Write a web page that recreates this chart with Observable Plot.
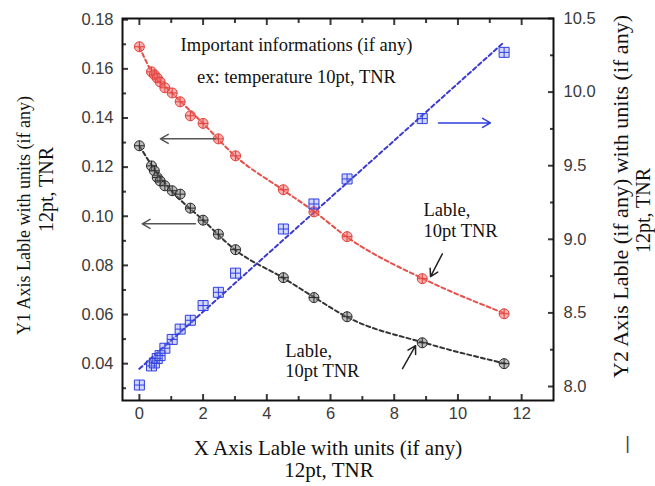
<!DOCTYPE html>
<html><head><meta charset="utf-8">
<script src="https://cdn.jsdelivr.net/npm/d3@7"></script>
<script src="https://cdn.jsdelivr.net/npm/@observablehq/plot@0.6"></script>
<style>body{margin:0;background:#fff} #chart{width:655px;height:486px}</style>
</head><body><div id="chart"></div>
<script>
// ---- data ----
const xValues = [0, 0.38, 0.47, 0.56, 0.65, 0.8, 1.03, 1.28, 1.6, 2.0, 2.48, 3.02, 4.52, 5.48, 6.52, 8.88, 11.45];
const redY1   = [0.169, 0.1588, 0.1576, 0.1563, 0.1547, 0.1523, 0.1502, 0.1466, 0.1409, 0.1378, 0.1315, 0.1246, 0.1108, 0.1018, 0.0917, 0.0746, 0.0603];
const blackY1 = [0.1287, 0.1205, 0.1185, 0.1158, 0.1144, 0.1124, 0.1104, 0.1090, 0.1033, 0.0984, 0.0927, 0.0864, 0.0750, 0.0669, 0.0591, 0.0485, 0.0400];
const blueY2  = [8.01, 8.14, 8.16, 8.19, 8.21, 8.26, 8.32, 8.39, 8.45, 8.55, 8.64, 8.77, 9.07, 9.24, 9.41, 9.82, 10.27];

const fitX     = [0, 0.4, 1, 2, 3, 4.5, 5.5, 6.5, 9, 11.5];
const redFit   = [0.169, 0.1585, 0.1505, 0.1378, 0.1246, 0.1108, 0.1018, 0.0917, 0.0740, 0.0603];
const blackFit = [0.1287, 0.1205, 0.1105, 0.0984, 0.0864, 0.0750, 0.0669, 0.0591, 0.0483, 0.0400];
const blueFitX = [0, 11.45];
const blueFit  = [8.12, 10.34];

const xTicks  = [0, 2, 4, 6, 8, 10, 12];
const xMinor  = [1, 3, 5, 7, 9, 11];
const y1Ticks = [0.04, 0.06, 0.08, 0.10, 0.12, 0.14, 0.16, 0.18];
const y1Minor = [0.03, 0.05, 0.07, 0.09, 0.11, 0.13, 0.15, 0.17];
const y2Ticks = [8.0, 8.5, 9.0, 9.5, 10.0, 10.5];
const y2Minor = [8.25, 8.75, 9.25, 9.75, 10.25];

const xDomain  = [-0.53, 13.0];
const y1Domain = [0.025, 0.1805];
const y2Domain = [7.905, 10.5];

// annotations
const noteText = ["Important informations (if any)", "ex: temperature 10pt, TNR"];
const noteX = [4.93, 4.93];
const noteY = [0.1695, 0.1567];
const lableText = ["Lable,\n10pt TNR", "Lable,\n10pt TNR"];
const lableX = [8.92, 4.58];
const lableY = [0.0985, 0.0412];
const arrowX1 = [2.39, 1.76, 9.39, 9.51, 8.26];
const arrowY1 = [0.1315, 0.0969, 0.1380, 0.0847, 0.0380];
const arrowX2 = [0.66, 0.09, 11.02, 9.14, 8.67];
const arrowY2 = [0.1315, 0.0969, 0.1380, 0.0754, 0.0473];
const arrowColor = ["#555", "#555", "#2f3fe0", "#222", "#222"];

// ---- helpers ----
const toY1 = v => y1Domain[0] + (v - y2Domain[0]) * (y1Domain[1] - y1Domain[0]) / (y2Domain[1] - y2Domain[0]);
const fromY1 = v => y2Domain[0] + (v - y1Domain[0]) * (y2Domain[1] - y2Domain[0]) / (y1Domain[1] - y1Domain[0]);

const circlePlus = {draw(ctx, size) {
  const r = Math.sqrt(size / Math.PI);
  ctx.moveTo(r, 0); ctx.arc(0, 0, r, 0, 2 * Math.PI);
  ctx.moveTo(-r, 0); ctx.lineTo(r, 0); ctx.moveTo(0, -r); ctx.lineTo(0, r);
}};
const squarePlus = {draw(ctx, size) {
  const s = Math.sqrt(size / Math.PI);
  ctx.rect(-s, -s, 2 * s, 2 * s);
  ctx.moveTo(-s, 0); ctx.lineTo(s, 0); ctx.moveTo(0, -s); ctx.lineTo(0, s);
}};

const pts = xValues.map((x, i) => ({x, red: redY1[i], black: blackY1[i], blue: toY1(blueY2[i])}));
const fits = fitX.map((x, i) => ({x, red: redFit[i], black: blackFit[i]}));
const blueFitData = blueFitX.map((x, i) => ({x, y: toY1(blueFit[i])}));
const arrows = arrowX1.map((x1, i) => ({x1, y1: arrowY1[i], x2: arrowX2[i], y2: arrowY2[i], c: arrowColor[i]}));
const notes = noteText.map((t, i) => ({t, x: noteX[i], y: noteY[i]}));
const lables = lableText.map((t, i) => ({t, x: lableX[i], y: lableY[i]}));

const serif = "Liberation Serif, Times New Roman, serif";
const blank = () => "";
const title = (txt, o) => Plot.text([txt], {textAnchor: "middle", lineAnchor: "middle", fontFamily: serif, fill: "#111", ...o});

const chart = Plot.plot({
  width: 655, height: 486,
  marginLeft: 122, marginRight: 102, marginTop: 18, marginBottom: 86,
  style: {fontFamily: "Liberation Sans, Arial, sans-serif", fontSize: "16.5px", color: "#3a3a3a", background: "#fff"},
  x: {domain: xDomain},
  y: {domain: y1Domain},
  marks: [
    // fitted dashed curves
    Plot.line(fits, {x: "x", y: "red", stroke: "#e8504a", strokeWidth: 2, strokeDasharray: "4,3", curve: "monotone-x"}),
    Plot.line(fits, {x: "x", y: "black", stroke: "#333", strokeWidth: 2, strokeDasharray: "4,3", curve: "monotone-x"}),
    Plot.line(blueFitData, {x: "x", y: "y", stroke: "#3a3ad0", strokeWidth: 2, strokeDasharray: "4,3"}),
    // data markers
    Plot.dot(pts, {x: "x", y: "red", symbol: circlePlus, r: 5, stroke: "#e0403a", strokeWidth: 1, fill: "rgba(240,110,110,0.55)"}),
    Plot.dot(pts, {x: "x", y: "black", symbol: circlePlus, r: 5, stroke: "#2a2a2a", strokeWidth: 1, fill: "rgba(120,120,120,0.5)"}),
    Plot.dot(pts, {x: "x", y: "blue", symbol: squarePlus, r: 5, stroke: "#2f3fe0", strokeWidth: 1, fill: "rgba(130,140,245,0.35)"}),
    // annotations
    Plot.arrow(arrows, {x1: "x1", y1: "y1", x2: "x2", y2: "y2", stroke: "c", strokeWidth: 1.5, headLength: 9}),
    Plot.text(notes, {x: "x", y: "y", text: "t", fontFamily: serif, fontSize: 18.5, fill: "#111"}),
    Plot.text(lables, {x: "x", y: "y", text: "t", textAnchor: "start", lineHeight: 1.1, fontFamily: serif, fontSize: 18.5, fill: "#111"}),
    // axes: labels
    Plot.axisX(xTicks, {anchor: "bottom", tickSize: 0, tickPadding: 7, label: null}),
    Plot.axisY(y1Ticks, {anchor: "left", tickSize: 0, tickPadding: 9, label: null, tickFormat: d => d.toFixed(2)}),
    Plot.axisY(y2Ticks.map(toY1), {anchor: "right", tickSize: 0, tickPadding: 10, label: null, tickFormat: d => fromY1(d).toFixed(1)}),
    // axes: inward ticks
    Plot.axisX(xTicks, {anchor: "bottom", tickSize: -6, tickFormat: blank, label: null, strokeWidth: 2}),
    Plot.axisX(xMinor, {anchor: "bottom", tickSize: -4, tickFormat: blank, label: null, strokeWidth: 2}),
    Plot.axisX(xTicks, {anchor: "top", tickSize: -6, tickFormat: blank, label: null, strokeWidth: 2}),
    Plot.axisX(xMinor, {anchor: "top", tickSize: -4, tickFormat: blank, label: null, strokeWidth: 2}),
    Plot.axisY(y1Ticks, {anchor: "left", tickSize: -6, tickFormat: blank, label: null, strokeWidth: 2}),
    Plot.axisY(y1Minor, {anchor: "left", tickSize: -4, tickFormat: blank, label: null, strokeWidth: 2}),
    Plot.axisY(y2Ticks.map(toY1), {anchor: "right", tickSize: -6, tickFormat: blank, label: null, strokeWidth: 2}),
    Plot.axisY(y2Minor.map(toY1), {anchor: "right", tickSize: -4, tickFormat: blank, label: null, strokeWidth: 2}),
    Plot.frame({stroke: "#111", strokeWidth: 2}),
    // axis titles
    title("X Axis Lable with units (if any)", {frameAnchor: "bottom", dx: -10, dy: 48, fontSize: 21}),
    title("12pt, TNR", {frameAnchor: "bottom", dx: -9, dy: 70, fontSize: 21}),
    title("Y1 Axis Lable with units (if any)", {frameAnchor: "left", dx: -98, dy: 6, rotate: -90, fontSize: 18}),
    title("12pt, TNR", {frameAnchor: "left", dx: -76, dy: -20, rotate: -90, fontSize: 20}),
    title("Y2 Axis Lable (if any) with units (if any)", {frameAnchor: "right", dx: 67, dy: -13, rotate: -90, fontSize: 22}),
    title("12pt, TNR", {frameAnchor: "right", dx: 90, dy: 1, rotate: -90, fontSize: 20}),
    Plot.text(["|"], {frameAnchor: "bottom-right", textAnchor: "middle", lineAnchor: "middle", dx: 74, dy: 43, fontSize: 18, fill: "#444"})
  ]
});
document.getElementById("chart").appendChild(chart);
</script>
</body></html>
